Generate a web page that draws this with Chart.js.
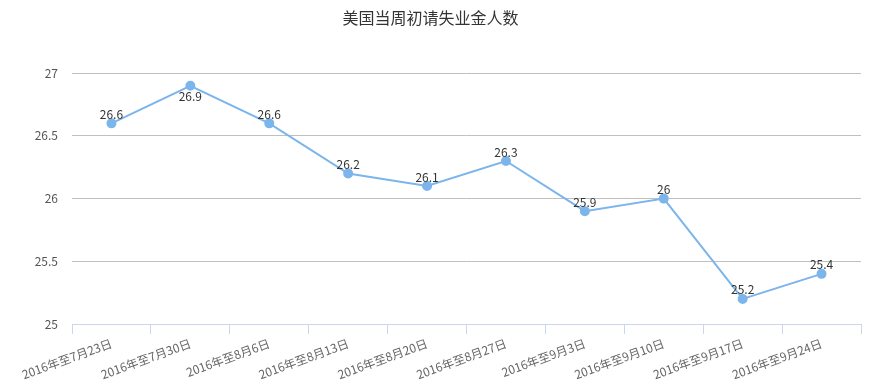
<!DOCTYPE html>
<html>
<head>
<meta charset="utf-8">
<script src="https://cdn.jsdelivr.net/npm/chart.js@4/dist/chart.umd.min.js"></script>
<style>
  html, body { margin: 0; padding: 0; background: #fff; }
  #wrap { width: 872px; height: 390px; }
</style>
</head>
<body>
<div id="wrap"><canvas id="grafico"></canvas></div>
<script>
const weeks = [
    "2016年至7月23日","2016年至7月30日","2016年至8月6日","2016年至8月13日","2016年至8月20日",
    "2016年至8月27日","2016年至9月3日","2016年至9月10日","2016年至9月17日","2016年至9月24日"
]
const claims = [26.6, 26.9, 26.6, 26.2, 26.1, 26.3, 25.9, 26, 25.2, 25.4]
const yTicks = [25, 25.5, 26, 26.5, 27]

const FONT = "'Noto Sans CJK SC', 'Open Sans', sans-serif"

/* labels on the points */
const pointLabels = {
    id: "pointLabels",
    afterDatasetsDraw(chart){
        const ctx = chart.ctx
        const meta = chart.getDatasetMeta(0)
        ctx.save()
        ctx.font = "12px " + FONT
        ctx.fillStyle = "#333"
        ctx.textAlign = "center"
        meta.data.forEach((p, i) => {
            let below = p.y - 22 < chart.chartArea.top
            if(below){
                ctx.textBaseline = "top"
                ctx.fillText(String(claims[i]), p.x, p.y + 5)
            } else {
                ctx.textBaseline = "bottom"
                ctx.fillText(String(claims[i]), p.x, p.y - 3)
            }
        })
        ctx.restore()
    }
}

new Chart(document.getElementById("grafico"), {
    type: "line",
    data: {
        labels: weeks,
        datasets: [{
            data: claims,
            borderColor: "#7cb5ec",
            backgroundColor: "#7cb5ec",
            borderWidth: 2,
            pointRadius: 4,
            pointHoverRadius: 4,
            tension: 0,
            fill: false
        }]
    },
    options: {
        responsive: true,
        maintainAspectRatio: false,
        animation: false,
        layout: { padding: { left: 0, right: 11, top: 0, bottom: 0 } },
        plugins: {
            legend: { display: false },
            tooltip: { enabled: false },
            title: {
                display: true,
                text: "美国当周初请失业金人数",
                color: "#333",
                font: { family: FONT, size: 16, weight: "normal" },
                padding: { top: 8, bottom: 46 }
            }
        },
        scales: {
            x: {
                offset: true,
                grid: {
                    offset: true,
                    drawOnChartArea: false,
                    drawTicks: true,
                    tickLength: 10,
                    color: "#ccd6eb"
                },
                border: { display: true, color: "#ccd6eb", width: 1 },
                ticks: {
                    color: "#666",
                    font: { family: FONT, size: 12 },
                    minRotation: 20,
                    maxRotation: 20,
                    autoSkip: false,
                    padding: 2
                },
                afterFit(s){ s.height = 66 }
            },
            y: {
                min: 25,
                max: 27,
                afterBuildTicks(s){ s.ticks = yTicks.map(v => ({ value: v })) },
                grid: { color: "#c0c0c0", drawTicks: false },
                border: { display: false },
                ticks: {
                    color: "#555",
                    font: { family: FONT, size: 12 },
                    padding: 14,
                    callback: v => String(v)
                },
                afterFit(s){ s.width = 72 }
            }
        }
    },
    plugins: [pointLabels]
})
</script>
</body>
</html>
